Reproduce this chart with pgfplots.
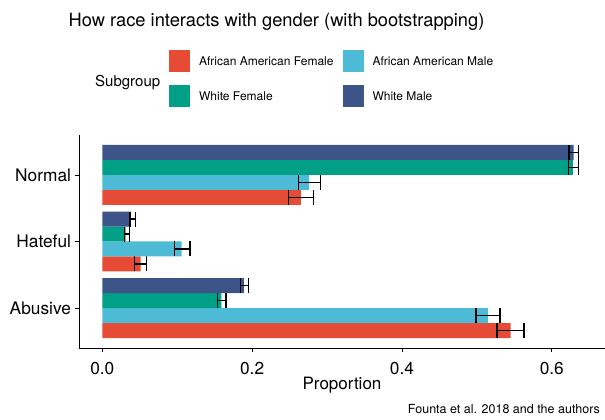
\documentclass[border=0pt]{standalone}
\usepackage{pgfplots}
\pgfplotsset{compat=1.18}
\usepackage{pgfplotstable}
\usepackage{fontspec}
\setmainfont{TeX Gyre Heros}

\definecolor{aaf}{HTML}{E64B35}
\definecolor{aam}{HTML}{4DBBD5}
\definecolor{wf}{HTML}{00A087}
\definecolor{wm}{HTML}{3C5488}

% cat: 0 = Abusive, 1 = Hateful, 2 = Normal
% p = proportion, lo/hi = bootstrap interval
\pgfplotstableread{
cat p lo hi
0 0.545 0.527 0.563
1 0.051 0.043 0.059
2 0.265 0.249 0.282
}\aafemale
\pgfplotstableread{
cat p lo hi
0 0.515 0.499 0.531
1 0.106 0.096 0.117
2 0.276 0.262 0.291
}\aamale
\pgfplotstableread{
cat p lo hi
0 0.159 0.154 0.165
1 0.031 0.030 0.036
2 0.628 0.622 0.636
}\wfemale
\pgfplotstableread{
cat p lo hi
0 0.189 0.184 0.195
1 0.038 0.037 0.044
2 0.629 0.623 0.636
}\wmale

\begin{document}
\begin{tikzpicture}
\path[use as bounding box] (0,0) rectangle (605pt,420pt);
\begin{axis}[
    at={(79pt,72pt)}, anchor=south west,
    scale only axis, width=526pt, height=213pt,
    xbar, bar width=0.225, bar shift=0pt,
    xmin=-0.0311, xmax=0.671,
    ymin=-0.6, ymax=2.6,
    axis x line*=bottom, axis y line*=left,
    axis line style={line width=0.8pt, -},
    tick style={line width=0.8pt, black},
    tick align=outside, major tick length=4.5pt,
    xtick={0,0.2,0.4,0.6},
    ytick={0,1,2}, yticklabels={Abusive,Hateful,Normal},
    xticklabel style={yshift=-6pt, /pgf/number format/.cd, fixed, fixed zerofill, precision=1, assume math mode=true},
    ticklabel style={font=\fontsize{17.3}{20}\selectfont},
    xlabel={Proportion},
    xlabel style={font=\fontsize{17}{20}\selectfont, at={(axis description cs:0.5,-0.1925)}, anchor=base},
    error bars/x dir=both, error bars/x explicit,
    error bars/error bar style={line width=1.3pt, black},
    error bars/error mark options={line width=1.3pt, black, mark size=7.5pt, rotate=90},
    legend style={at={(axis description cs:0.171,1.399)}, anchor=north west,
      draw=none, fill=none, inner sep=0pt, legend columns=2,
      font=\fontsize{12}{14}\selectfont, row sep=13pt, nodes={inner sep=0pt},
      /tikz/every odd column/.append style={column sep=9pt},
      /tikz/every even column/.append style={column sep=9pt}},
    legend cell align=left,
    legend image code/.code={\fill[#1] (0pt,-10pt) rectangle (21pt,12pt);},
]
\addplot[fill=aaf, draw=none] table[x=p, y expr=\thisrow{cat}-0.3375,
    x error plus expr=\thisrow{hi}-\thisrow{p}, x error minus expr=\thisrow{p}-\thisrow{lo}] {\aafemale};
\addplot[fill=aam, draw=none] table[x=p, y expr=\thisrow{cat}-0.1125,
    x error plus expr=\thisrow{hi}-\thisrow{p}, x error minus expr=\thisrow{p}-\thisrow{lo}] {\aamale};
\addplot[fill=wf, draw=none] table[x=p, y expr=\thisrow{cat}+0.1125,
    x error plus expr=\thisrow{hi}-\thisrow{p}, x error minus expr=\thisrow{p}-\thisrow{lo}] {\wfemale};
\addplot[fill=wm, draw=none] table[x=p, y expr=\thisrow{cat}+0.3375,
    x error plus expr=\thisrow{hi}-\thisrow{p}, x error minus expr=\thisrow{p}-\thisrow{lo}] {\wmale};
\legend{African American Female, African American Male, White Female, White Male}
\end{axis}
\node[font=\fontsize{18.3}{22}\selectfont, anchor=base] at (276.5pt,393pt) {How race interacts with gender (with bootstrapping)};
\node[font=\fontsize{15}{18}\selectfont, anchor=base west, inner sep=0pt] at (95pt,333pt) {Subgroup};
\node[font=\fontsize{12.5}{15}\selectfont, anchor=base east, inner sep=0pt] at (600pt,6pt) {Founta et al. 2018 and the authors};
\end{tikzpicture}
\end{document}
